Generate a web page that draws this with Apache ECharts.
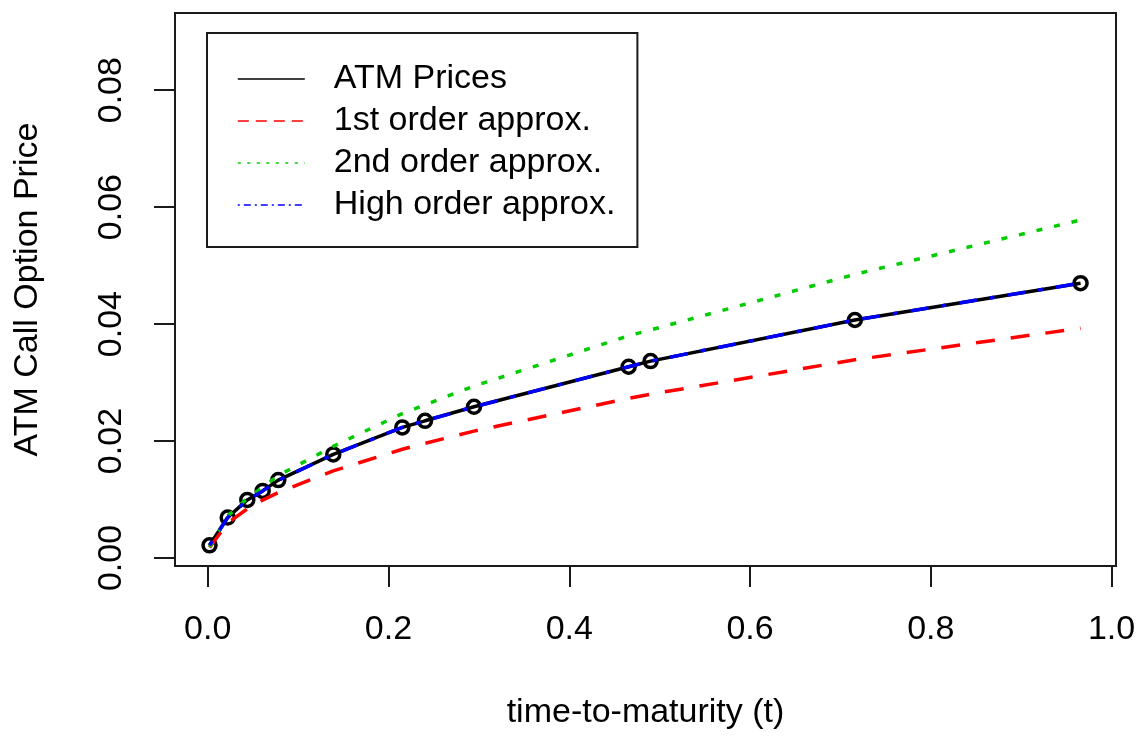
<!DOCTYPE html>
<html>
<head>
<meta charset="utf-8">
<script src="https://cdn.jsdelivr.net/npm/echarts@6/dist/echarts.min.js"></script>
<style>
html,body{margin:0;padding:0;background:#fff;}
#chart{width:1141px;height:740px;}
</style>
</head>
<body>
<div id="chart"></div>
<script>
// time-to-maturity values (x)
const maturities = [0.0020, 0.0221, 0.0438, 0.0608, 0.0781, 0.1389, 0.2153, 0.2404, 0.2946, 0.4657, 0.4900, 0.7160, 0.9657];
// series values (y)
const atmPrices   = [0.00217, 0.00692, 0.00993, 0.01147, 0.01332, 0.01771, 0.02233, 0.02346, 0.02586, 0.03271, 0.03367, 0.04070, 0.04700];
const firstOrder  = [0.0018, 0.0060, 0.0084, 0.0099, 0.0112, 0.0149, 0.0186, 0.0196, 0.0217, 0.0273, 0.0280, 0.0339, 0.0393];
const secondOrder = [0.0019, 0.0072, 0.0102, 0.0121, 0.0141, 0.0191, 0.0247, 0.0262, 0.0294, 0.0380, 0.0390, 0.0485, 0.0578];
const highOrder   = [0.00217, 0.00690, 0.00990, 0.01147, 0.01330, 0.01770, 0.02233, 0.02346, 0.02586, 0.03270, 0.03367, 0.04070, 0.04700];
// tick labels
const xTicks = [0.0, 0.2, 0.4, 0.6, 0.8, 1.0];
const yTicks = [0.00, 0.02, 0.04, 0.06, 0.08];
const seriesNames = ['ATM Prices', '1st order approx.', '2nd order approx.', 'High order approx.'];

const pairs = ys => maturities.map((x, i) => [x, ys[i]]);
const FONT = '"Liberation Sans", Arial, sans-serif';

const chart = echarts.init(document.getElementById('chart'), null, {renderer: 'canvas'});
chart.setOption({
  animation: false,
  backgroundColor: '#ffffff',
  grid: {
    left: 175, right: 25, top: 13, bottom: 174,
    show: true, borderColor: '#1a1a1a', borderWidth: 2, backgroundColor: 'transparent'
  },
  xAxis: {
    type: 'value',
    min: -0.0362, max: 1.0049,
    name: 'time-to-maturity (t)',
    nameLocation: 'middle',
    nameGap: 130,
    nameTextStyle: {fontFamily: FONT, fontSize: 34, color: '#000'},
    axisLine: {show: false, onZero: false},
    splitLine: {show: false},
    axisTick: {show: true, customValues: xTicks, length: 21, lineStyle: {color: '#1a1a1a', width: 2}},
    axisLabel: {
      customValues: xTicks, margin: 47,
      fontFamily: FONT, fontSize: 34, color: '#000',
      formatter: v => v.toFixed(1)
    }
  },
  yAxis: {
    type: 'value',
    min: -0.00137, max: 0.0932,
    name: 'ATM Call Option Price',
    nameLocation: 'middle',
    nameGap: 130,
    nameRotate: 90,
    nameTextStyle: {fontFamily: FONT, fontSize: 34, color: '#000'},
    axisLine: {show: false, onZero: false},
    splitLine: {show: false},
    axisTick: {show: true, customValues: yTicks, length: 21, lineStyle: {color: '#1a1a1a', width: 2}},
    axisLabel: {
      customValues: yTicks, margin: 46, rotate: 90,
      fontFamily: FONT, fontSize: 34, color: '#000',
      formatter: v => v.toFixed(2)
    }
  },
  legend: {
    orient: 'vertical',
    left: 207, top: 33,
    padding: [25, 22, 21, 30],
    borderColor: '#1a1a1a', borderWidth: 2,
    itemWidth: 67, itemHeight: 14, itemGap: 0,
    textStyle: {fontFamily: FONT, fontSize: 34, color: '#000', lineHeight: 42, padding: [0, 0, 0, 24]},
    data: [
      {name: seriesNames[0], itemStyle: {opacity: 0}, lineStyle: {color: '#000', width: 1.6, type: 'solid'}},
      {name: seriesNames[1], itemStyle: {opacity: 0}, lineStyle: {color: '#ff0000', width: 1.6, type: [11, 7]}},
      {name: seriesNames[2], itemStyle: {opacity: 0}, lineStyle: {color: '#00cc00', width: 1.6, type: [3, 6.5]}},
      {name: seriesNames[3], itemStyle: {opacity: 0}, lineStyle: {color: '#0000ff', width: 1.6, type: [2, 4, 7, 4]}}
    ]
  },
  series: [
    {
      name: seriesNames[0], type: 'line', data: pairs(atmPrices),
      symbol: 'none', lineStyle: {color: '#000', width: 3.5, type: 'solid'}, itemStyle: {color: '#000'}
    },
    {
      name: 'ATM points', type: 'scatter', data: pairs(atmPrices),
      symbol: 'circle', symbolSize: 13,
      itemStyle: {color: 'rgba(0,0,0,0)', borderColor: '#000', borderWidth: 3.5, opacity: 1}
    },
    {
      name: seriesNames[1], type: 'line', data: pairs(firstOrder),
      symbol: 'none', lineStyle: {color: '#ff0000', width: 3.5, type: [19, 16]}, itemStyle: {color: '#ff0000'}
    },
    {
      name: seriesNames[2], type: 'line', data: pairs(secondOrder),
      symbol: 'none', lineStyle: {color: '#00cc00', width: 3.5, type: [6, 12]}, itemStyle: {color: '#00cc00'}
    },
    {
      name: seriesNames[3], type: 'line', data: pairs(highOrder),
      symbol: 'none', lineStyle: {color: '#0000ff', width: 3.5, type: [5, 13, 18, 13]}, itemStyle: {color: '#0000ff'}
    }
  ]
});
</script>
</body>
</html>
